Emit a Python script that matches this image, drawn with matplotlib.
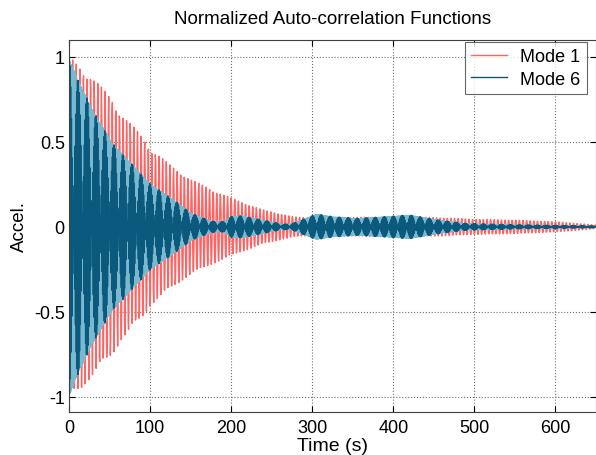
# Normalized auto-correlation functions, modes 1 and 6
import matplotlib.pyplot as plt
import numpy as np

plt.rcParams['font.family'] = ['Liberation Sans', 'DejaVu Sans']
plt.rcParams['axes.unicode_minus'] = False

# Envelopes (time in s, amplitude)
t_env1 = [0, 15, 29, 54, 64, 91, 101, 126, 150, 176, 200, 239, 276, 300,
          350, 400, 450, 500, 550, 600, 640, 650]
amp_env1 = [1.0, 0.95, 0.88, 0.75, 0.67, 0.53, 0.46, 0.36, 0.28, 0.22, 0.17,
            0.10, 0.06, 0.05, 0.055, 0.06, 0.055, 0.045, 0.04, 0.03, 0.015, 0.01]

t_env6 = [0, 10, 29, 54, 64, 101, 126, 151, 176, 190, 201, 214, 239, 264,
          276, 305, 326, 355, 390, 420, 456, 490, 550, 650]
amp_env6 = [1.0, 0.88, 0.69, 0.49, 0.44, 0.25, 0.17, 0.08, 0.033, 0.03,
            0.063, 0.065, 0.04, 0.015, 0.02, 0.075, 0.06, 0.05, 0.06, 0.07,
            0.04, 0.02, 0.012, 0.005]

# Dominant frequencies (Hz) and record sampling
f_mode1 = 0.225
f_mode6 = 1.045
dt = 0.5        # recorded sampling step
dt_fine = 0.05  # fine step, used for the light trace of mode 6
t_end = 650

t = np.arange(0, t_end + dt, dt)
mode1 = np.interp(t, t_env1, amp_env1) * np.cos(2 * np.pi * f_mode1 * t)
mode6 = np.interp(t, t_env6, amp_env6) * np.cos(2 * np.pi * f_mode6 * t)

tf = np.arange(0, t_end + dt_fine, dt_fine)
mode6_fine = np.interp(tf, t_env6, amp_env6) * np.cos(2 * np.pi * f_mode6 * tf)

fig = plt.figure(figsize=(5.96, 4.56), dpi=100)
ax = fig.add_axes([69 / 596, 43 / 456, 527 / 596, 372 / 456])

ax.plot(t, mode1, color='#ff6464', lw=1.0, label='Mode 1')
ax.plot(tf, mode6_fine, color='#7ab8cf', lw=0.5)
ax.plot(t, mode6, color='#0b5a7e', lw=1.0, label='Mode 6')

ax.set_xlim(0, 650)
ax.set_ylim(-1.09, 1.1)
ax.set_xticks([0, 100, 200, 300, 400, 500, 600])
ax.set_yticks([-1, -0.5, 0, 0.5, 1])
ax.set_yticklabels(['-1', '-0.5', '0', '0.5', '1'])
ax.tick_params(direction='in', top=True, right=True, labelsize=13, length=4)
ax.tick_params(axis='y', pad=3)
ax.tick_params(axis='x', pad=5)
ax.grid(True, color='#707070', linestyle=':', linewidth=0.8)
for s in ax.spines.values():
    s.set_color('#404040')
    s.set_linewidth(0.8)

ax.set_title('Normalized Auto-correlation Functions', fontsize=13.5, pad=12)
ax.set_xlabel('Time (s)', fontsize=14, labelpad=1)
ax.set_ylabel('Accel.', fontsize=13.5, labelpad=4)

leg = ax.legend(loc='upper left', bbox_to_anchor=(465 / 596, 1 - 43 / 456),
                bbox_transform=fig.transFigure, fontsize=13, frameon=True,
                fancybox=False, borderpad=0.35, handlelength=2.0,
                labelspacing=0.3, handletextpad=0.7, borderaxespad=0)
leg.get_frame().set_edgecolor('#404040')
leg.get_frame().set_linewidth(0.8)

fig.savefig('out.png')
